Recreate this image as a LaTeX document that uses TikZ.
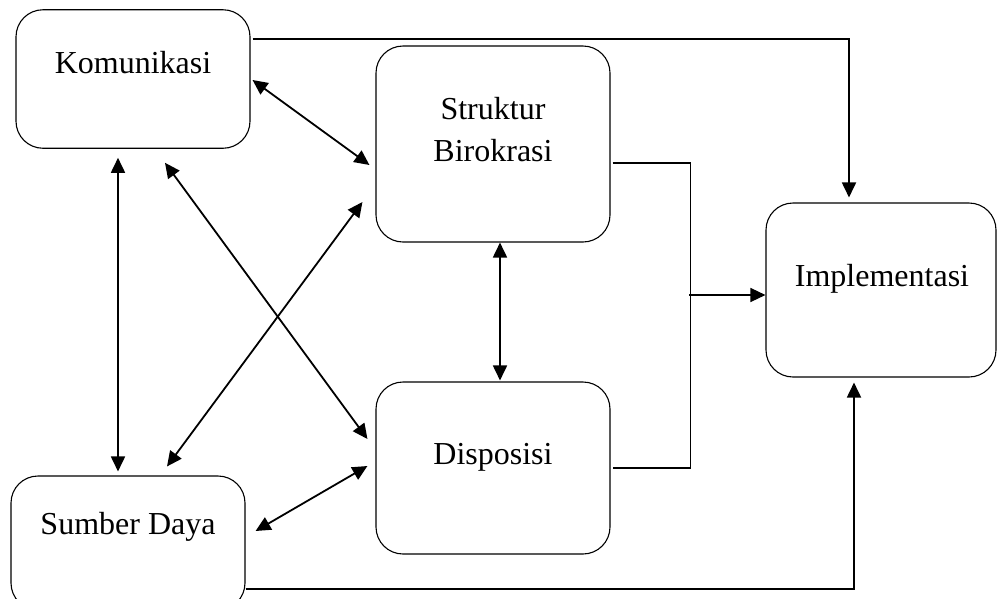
\documentclass[tikz,border=0pt]{standalone}
\usepackage{fontspec}
\setmainfont{Liberation Serif}
\usetikzlibrary{arrows.meta,calc}
\begin{document}
\begin{tikzpicture}[x=1pt,y=-1pt,
  box/.style={draw,line width=1.1pt,rounded corners=27pt,inner sep=0pt},
  lbl/.style={inner sep=0pt,anchor=base,font=\fontsize{32}{38}\selectfont},
  conn/.style={line width=1.8pt},
  arr/.style={conn,-{Triangle[length=15pt,width=14pt]}},
  dbl/.style={conn,{Triangle[length=15pt,width=14pt]}-{Triangle[length=15pt,width=14pt]}}]
\clip (0,0) rectangle (997,598);
\fill[white] (0,0) rectangle (997,598);
% boxes
\node[box,minimum width=234pt,minimum height=138.5pt] (kom) at (133,79) {};
\node[box,minimum width=234pt,minimum height=196pt] (str) at (493,144) {};
\node[box,minimum width=234pt,minimum height=172pt] (dis) at (493,468) {};
\node[box,minimum width=234pt,minimum height=134pt] (sum) at (128,543) {};
\node[box,minimum width=230pt,minimum height=174pt] (imp) at (881,290) {};
% labels
\node[lbl] (komt) at (133,73) {Komunikasi};
\node[lbl] (strt1) at (493,119) {Struktur};
\node[lbl] (strt2) at (493,161) {Birokrasi};
\node[lbl] (dist) at (493,464) {Disposisi};
\node[lbl] (sumt) at (128,534) {Sumber Daya};
\node[lbl] (impt) at (882,286) {Implementasi};
% connectors
\draw[arr] ($(kom.east)+(2,-40)$) -| ($(imp.north)+(-32,-5)$);
\draw[dbl] ($(kom.east)+(2,1)$) -- ($(str.west)+(-6,21)$);
\draw[dbl] ($(kom.south)+(-15,9)$) -- ($(sum.north)+(-10,-4)$);
\draw[dbl] ($(kom.south)+(32,14)$) -- ($(dis.west)+(-8,-29)$);
\draw[dbl] ($(sum.north)+(39,-9)$) -- ($(str.west)+(-13,58)$);
\draw[dbl] ($(sum.east)+(10,-12)$) -- ($(dis.west)+(-8,-2)$);
\draw[dbl] ($(str.south)+(7,0)$) -- ($(dis.north)+(7,-1)$);
\draw[conn,line width=1.4pt] ($(str.east)+(2,19)$) -| ($(dis.east)+(80,0)$) -- ($(dis.east)+(2,0)$);
\draw[arr,line width=1.4pt] ($(imp.west)+(-76,5)$) -- ($(imp.west)+(0,5)$);
\draw[arr] ($(sum.east)+(0,46)$) -| ($(imp.south)+(-27,5)$);
\end{tikzpicture}
\end{document}
